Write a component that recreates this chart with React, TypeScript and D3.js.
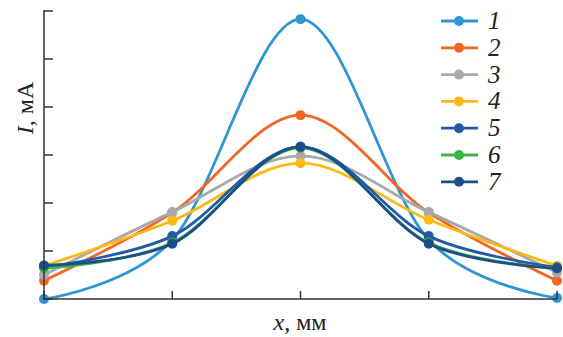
import React from "react";
import * as d3 from "d3";

const xPositions = [0, 1, 2, 3, 4];
const seriesNames = ["1", "2", "3", "4", "5", "6", "7"];
const colors = ["#2E95D3", "#F26522", "#A7A9AC", "#FDB913", "#2359A6", "#39B54A", "#1B4F8A"];
const s1 = [0, 1.23, 5.83, 1.23, 0.02];
const s2 = [0.38, 1.8, 3.83, 1.8, 0.38];
const s3 = [0.5, 1.81, 2.98, 1.81, 0.55];
const s4 = [0.69, 1.63, 2.83, 1.65, 0.69];
const s5 = [0.66, 1.31, 3.17, 1.31, 0.66];
const s6 = [0.64, 1.17, 3.15, 1.17, 0.64];
const s7 = [0.7, 1.15, 3.17, 1.15, 0.64];
const allSeries = [s1, s2, s3, s4, s5, s6, s7];
const yTicks = [0, 1, 2, 3, 4, 5, 6];

export default function App() {
  const W = 563, H = 337;
  const x = d3.scaleLinear().domain([0, 4]).range([44, 557]);
  const y = d3.scaleLinear().domain([0, 6]).range([299, 11]);
  const line = d3.line<number>().x((_, i) => x(xPositions[i])).y((d) => y(d)).curve(d3.curveCardinal.tension(0));
  const font = "Liberation Serif, serif";
  return (
    <svg width={W} height={H} style={{ position: "absolute", left: 0, top: 0 }}>
      <rect width={W} height={H} fill="#fff" />
      {allSeries.map((s, k) => (
        <g key={k}>
          <path d={line(s) || ""} fill="none" stroke={colors[k]} strokeWidth={2.8} />
          {s.map((v, i) => (
            <circle key={i} cx={x(xPositions[i])} cy={y(v)} r={5} fill={colors[k]} />
          ))}
        </g>
      ))}
      <line x1={44} x2={44} y1={10} y2={299.5} stroke="#333" strokeWidth={1.5} />
      <line x1={43.5} x2={557} y1={299} y2={299} stroke="#333" strokeWidth={1.5} />
      {yTicks.map((t) => (
        <line key={t} x1={44} x2={53} y1={y(t)} y2={y(t)} stroke="#333" strokeWidth={1.5} />
      ))}
      {xPositions.map((t) => (
        <line key={t} x1={x(t)} x2={x(t)} y1={299} y2={291} stroke="#333" strokeWidth={1.5} />
      ))}
      <text x={300} y={330} textAnchor="middle" fontFamily={font} fontSize={24} fill="#222">
        <tspan fontStyle="italic">x</tspan>, мм
      </text>
      <text transform="translate(33,108) rotate(-90)" textAnchor="middle" fontFamily={font} fontSize={24} fill="#222">
        <tspan fontStyle="italic">I</tspan>, мА
      </text>
      {seriesNames.map((n, k) => {
        const ly = 21 + k * 26.8;
        return (
          <g key={n}>
            <line x1={441} x2={478} y1={ly} y2={ly} stroke={colors[k]} strokeWidth={2.8} />
            <circle cx={459} cy={ly} r={5} fill={colors[k]} />
            <text x={488} y={ly + 8} fontFamily={font} fontStyle="italic" fontSize={25} fill="#222">{n}</text>
          </g>
        );
      })}
    </svg>
  );
}
